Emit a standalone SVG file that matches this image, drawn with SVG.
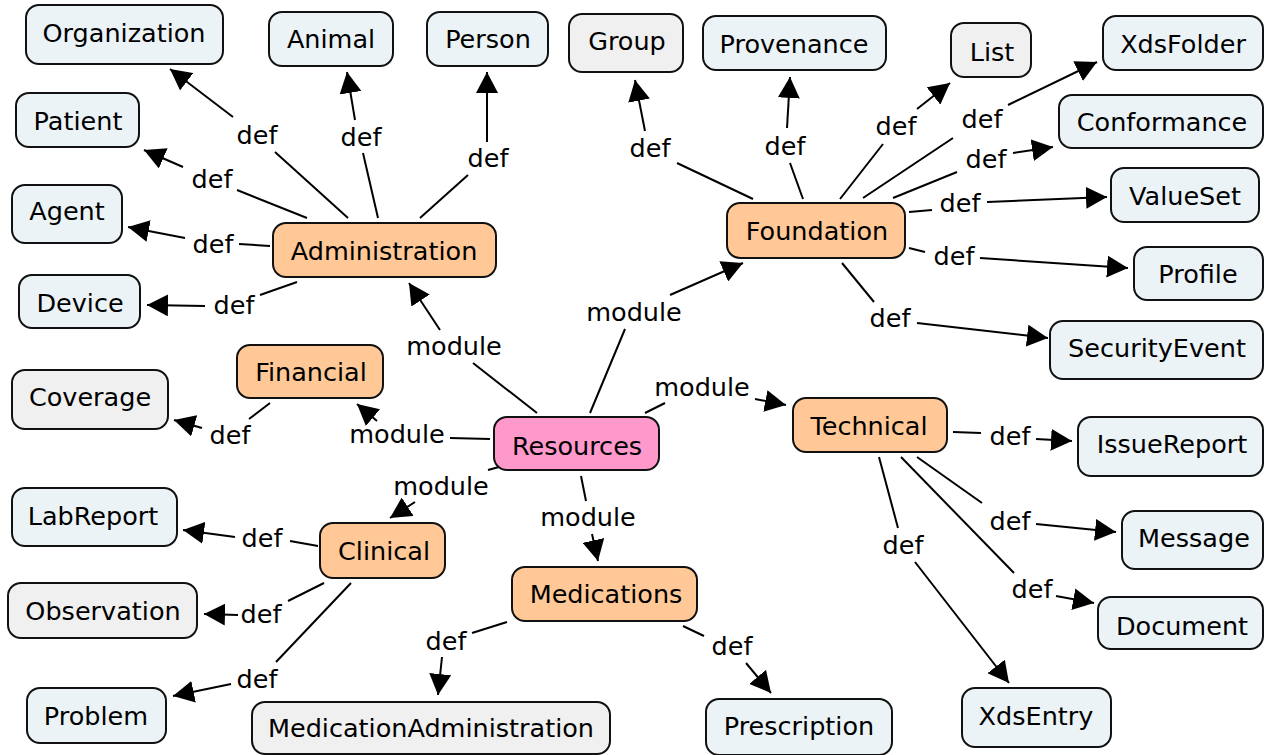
<svg xmlns="http://www.w3.org/2000/svg" width="1264" height="755" viewBox="0 0 1264 755">
<defs>
<marker id="ah" viewBox="0 0 21 22" refX="21" refY="11" markerWidth="21" markerHeight="22" markerUnits="userSpaceOnUse" orient="auto"><path d="M0,0 L21,11 L0,22 z" fill="#000"/></marker>
<style>
rect{stroke:#111;stroke-width:2}
.b rect{fill:#ebf3f7}
.g rect{fill:#f0f0f0}
.o rect{fill:#ffc896}
.p rect{fill:#ff99cc}
text{font-family:"DejaVu Sans","Liberation Sans",sans-serif;font-size:25.5px;fill:#000;text-anchor:middle}
#connectors path{fill:none;stroke:#000;stroke-width:2}
#connectors path.a{marker-end:url(#ah)}
</style>
</defs>
<rect x="0" y="0" width="1264" height="755" fill="#fff" style="stroke:none"/>
<g id="connectors">
<!-- Administration -->
<path d="M348,218 L275,152"/><text x="257" y="144">def</text><path class="a" d="M233,117 L170,69"/>
<path d="M378,218 L363,153"/><text x="361" y="146">def</text><path class="a" d="M355,120 L347,72"/>
<path d="M420,218 L468,175"/><text x="488" y="167">def</text><path class="a" d="M487,142 L487,72"/>
<path d="M307,218 L237,190"/><text x="212" y="188">def</text><path class="a" d="M183,167 L144,150"/>
<path d="M270,246 L239,244"/><text x="213" y="253">def</text><path class="a" d="M185,238 L128,227"/>
<path d="M297,282 L260,295"/><text x="234" y="314">def</text><path class="a" d="M205,306 L147,305"/>
<!-- Resources -->
<path d="M537,413 L473,363"/><text x="454" y="355">module</text><path class="a" d="M440,330 L409,283"/>
<path d="M490,439 L450,438"/><text x="397" y="443">module</text><path class="a" d="M377,421 L357,404"/>
<path d="M590,413 L625,329"/><text x="634" y="321">module</text><path class="a" d="M670,295 L743,263"/>
<path d="M645,413 L665,403"/><text x="702" y="396">module</text><path class="a" d="M755,399 L786,405"/>
<path d="M499,467 L488,470"/><text x="441" y="495">module</text><path class="a" d="M415,502 L390,518"/>
<path d="M581,476 L586,501"/><text x="588" y="526">module</text><path class="a" d="M592,534 L598,561"/>
<!-- Financial -->
<path d="M270,403 L249,419"/><text x="230" y="444">def</text><path class="a" d="M202,428 L174,420"/>
<!-- Clinical -->
<path d="M318,546 L290,541"/><text x="262" y="547">def</text><path class="a" d="M235,537 L183,530"/>
<path d="M324,583 L288,601"/><text x="261" y="623">def</text><path class="a" d="M238,615 L204,614"/>
<path d="M351,583 L276,662"/><text x="257" y="688">def</text><path class="a" d="M231,684 L173,696"/>
<!-- Medications -->
<path d="M507,622 L472,633"/><text x="446" y="650">def</text><path class="a" d="M442,657 L438,695"/>
<path d="M683,626 L704,636"/><text x="732" y="655">def</text><path class="a" d="M746,663 L771,693"/>
<!-- Technical -->
<path d="M953,432 L981,433"/><text x="1010" y="445">def</text><path class="a" d="M1036,439 L1072,441"/>
<path d="M917,457 L982,503"/><text x="1010" y="530">def</text><path class="a" d="M1036,524 L1116,532"/>
<path d="M901,457 L1014,573"/><text x="1032" y="598">def</text><path class="a" d="M1056,596 L1094,603"/>
<path d="M879,457 L898,528"/><text x="903" y="554">def</text><path class="a" d="M915,562 L1009,683"/>
<!-- Foundation -->
<path d="M753,199 L677,163"/><text x="650" y="157">def</text><path class="a" d="M645,131 L635,80"/>
<path d="M803,199 L790,163"/><text x="785" y="155">def</text><path class="a" d="M787,128 L790,77"/>
<path d="M840,199 L883,144"/><text x="896" y="135">def</text><path class="a" d="M917,109 L950,83"/>
<path d="M863,198 L953,138"/><text x="982" y="128">def</text><path class="a" d="M1008,105 L1097,62"/>
<path d="M893,198 L957,172"/><text x="986" y="168">def</text><path class="a" d="M1013,153 L1053,147"/>
<path d="M909,212 L932,210"/><text x="960" y="212">def</text><path class="a" d="M987,202 L1107,197"/>
<path d="M909,248 L925,252"/><text x="954" y="265">def</text><path class="a" d="M980,258 L1128,268"/>
<path d="M842,263 L874,302"/><text x="890" y="327">def</text><path class="a" d="M917,323 L1048,338"/>
</g>
<g id="Organization" class="b"><rect x="26" y="5" width="197" height="59" rx="13"/><text x="124" y="42">Organization</text></g>
<g id="Animal" class="b"><rect x="269" y="12" width="124" height="54" rx="13"/><text x="331" y="48">Animal</text></g>
<g id="Person" class="b"><rect x="427" y="12" width="121" height="54" rx="13"/><text x="488" y="48">Person</text></g>
<g id="Patient" class="b"><rect x="16" y="93" width="123" height="54" rx="13"/><text x="78" y="130">Patient</text></g>
<g id="Agent" class="b"><rect x="12" y="185" width="110" height="58" rx="13"/><text x="67" y="220">Agent</text></g>
<g id="Device" class="b"><rect x="19" y="275" width="121" height="53" rx="13"/><text x="80" y="312">Device</text></g>
<g id="Administration" class="o"><rect x="273" y="223" width="223" height="54" rx="13"/><text x="384" y="260">Administration</text></g>
<g id="Financial" class="o"><rect x="237" y="345" width="146" height="53" rx="13"/><text x="311" y="381">Financial</text></g>
<g id="Coverage" class="g"><rect x="12" y="370" width="156" height="59" rx="13"/><text x="90" y="406">Coverage</text></g>
<g id="LabReport" class="b"><rect x="12" y="488" width="165" height="58" rx="13"/><text x="93" y="525">LabReport</text></g>
<g id="Resources" class="p"><rect x="494" y="417" width="165" height="53" rx="13"/><text x="577" y="455">Resources</text></g>
<g id="Clinical" class="o"><rect x="320" y="523" width="125" height="55" rx="13"/><text x="384" y="560">Clinical</text></g>
<g id="Observation" class="g"><rect x="8" y="583" width="189" height="55" rx="13"/><text x="103" y="620">Observation</text></g>
<g id="Problem" class="b"><rect x="27" y="688" width="139" height="55" rx="13"/><text x="96" y="725">Problem</text></g>
<g id="MedicationAdministration" class="g"><rect x="252" y="702" width="358" height="52" rx="13"/><text x="431" y="737">MedicationAdministration</text></g>
<g id="Medications" class="o"><rect x="512" y="567" width="185" height="54" rx="13"/><text x="606" y="603">Medications</text></g>
<g id="Prescription" class="b"><rect x="706" y="699" width="186" height="56" rx="13"/><text x="799" y="735">Prescription</text></g>
<g id="XdsEntry" class="b"><rect x="962" y="688" width="149" height="59" rx="13"/><text x="1036" y="725">XdsEntry</text></g>
<g id="Technical" class="o"><rect x="793" y="398" width="154" height="54" rx="13"/><text x="869" y="435">Technical</text></g>
<g id="IssueReport" class="b"><rect x="1078" y="417" width="185" height="59" rx="13"/><text x="1172" y="453">IssueReport</text></g>
<g id="Message" class="b"><rect x="1122" y="511" width="141" height="58" rx="13"/><text x="1194" y="547">Message</text></g>
<g id="Document" class="b"><rect x="1098" y="597" width="165" height="52" rx="13"/><text x="1182" y="635">Document</text></g>
<g id="Foundation" class="o"><rect x="727" y="203" width="178" height="55" rx="13"/><text x="817" y="240">Foundation</text></g>
<g id="Group" class="g"><rect x="569" y="14" width="114" height="58" rx="13"/><text x="627" y="50">Group</text></g>
<g id="Provenance" class="b"><rect x="703" y="16" width="183" height="54" rx="13"/><text x="794" y="53">Provenance</text></g>
<g id="List" class="g"><rect x="951" y="23" width="80" height="54" rx="13"/><text x="992" y="61">List</text></g>
<g id="XdsFolder" class="b"><rect x="1103" y="16" width="160" height="54" rx="13"/><text x="1183" y="53">XdsFolder</text></g>
<g id="Conformance" class="b"><rect x="1059" y="95" width="204" height="53" rx="13"/><text x="1162" y="131">Conformance</text></g>
<g id="ValueSet" class="b"><rect x="1111" y="168" width="148" height="54" rx="13"/><text x="1185" y="205">ValueSet</text></g>
<g id="Profile" class="b"><rect x="1134" y="247" width="129" height="53" rx="13"/><text x="1198" y="283">Profile</text></g>
<g id="SecurityEvent" class="b"><rect x="1050" y="321" width="213" height="58" rx="13"/><text x="1157" y="357">SecurityEvent</text></g>
</svg>
